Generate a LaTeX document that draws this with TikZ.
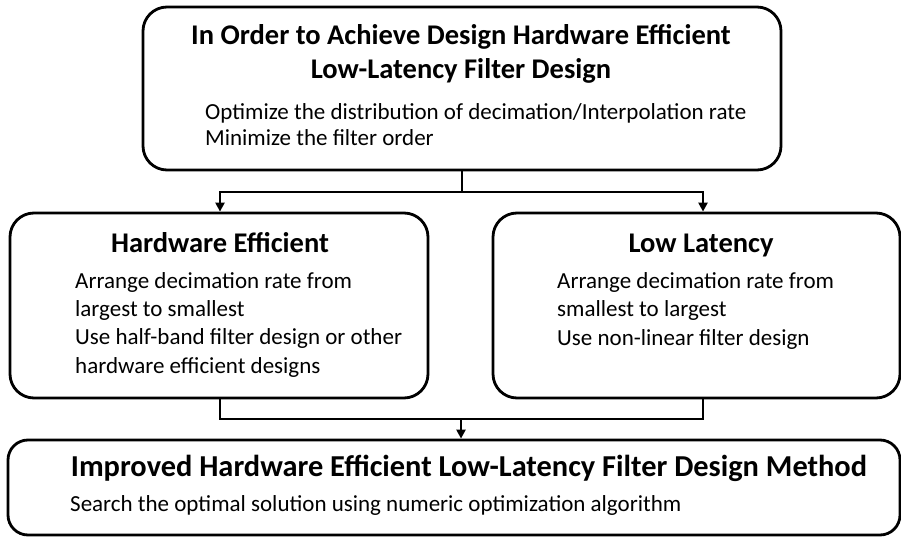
\documentclass[tikz,border=0pt]{standalone}
\usepackage{fontspec}
\setmainfont{Carlito}
\usetikzlibrary{arrows.meta}
\begin{document}
\begin{tikzpicture}[x=1pt,y=-1pt,
  box/.style={draw=black,line width=2.8pt,rounded corners=24pt,fill=white},
  ttl/.style={font=\fontsize{28.5}{34}\selectfont\bfseries,inner sep=0pt,align=center,anchor=base},
  body/.style={font=\fontsize{23}{28.2}\selectfont,inner sep=0pt,align=left,anchor=base west},
  conn/.style={line width=2.8pt},
  arr/.style={line width=2.8pt,-{Triangle[width=9pt,length=9pt]}}]
\useasboundingbox (0,0) rectangle (901,537);
\node[box,minimum width=638pt,minimum height=163pt] (top) at (462,88.5) {};
\node[box,minimum width=418pt,minimum height=185pt] (hw) at (219,305.5) {};
\node[box,minimum width=407pt,minimum height=185pt] (ll) at (696.5,305.5) {};
\node[box,rounded corners=20pt,minimum width=892pt,minimum height=95pt] (imp) at (454,487.5) {};
% texts
\node[ttl] (t1) at (461,79) {In Order to Achieve Design Hardware Efficient\\Low-Latency Filter Design};
\node[body,font=\fontsize{23}{26.5}\selectfont] (b1) at (205,146) {Optimize the distribution of decimation/Interpolation rate\\Minimize the filter order};
\node[ttl] (t2) at (220,252) {Hardware Efficient};
\node[body] (b2) at (75,373) {Arrange decimation rate from\\largest to smallest\\Use half-band filter design or other\\hardware efficient designs};
\node[ttl] (t3) at (701,252) {Low Latency};
\node[body] (b3) at (557,345) {Arrange decimation rate from\\smallest to largest\\Use non-linear filter design};
\node[ttl,font=\fontsize{30.4}{36}\selectfont\bfseries] (t4) at (469,476) {Improved Hardware Efficient Low-Latency Filter Design Method};
\node[body] (b4) at (70,511) {Search the optimal solution using numeric optimization algorithm};
% connectors
\coordinate (j1) at (462,192);
\coordinate (j2) at (461,419);
\draw[conn] (top.south) -- (j1);
\draw[arr] (j1) -| ([xshift=1pt]hw.north);
\draw[arr] (j1) -| ([xshift=6.5pt]ll.north);
\draw[conn] ([xshift=1pt]hw.south) |- (j2);
\draw[conn] ([xshift=6.5pt]ll.south) |- (j2);
\draw[arr] (j2) -- (imp.north -| j2);
\end{tikzpicture}
\end{document}
